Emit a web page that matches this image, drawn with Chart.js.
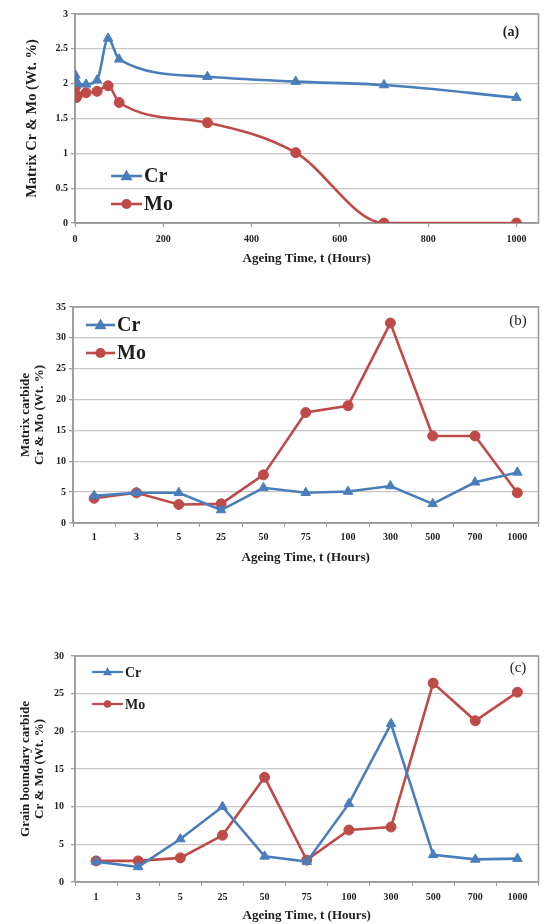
<!DOCTYPE html>
<html><head><meta charset="utf-8">
<script src="https://cdn.jsdelivr.net/npm/chart.js@4/dist/chart.umd.min.js"></script>
<style>
html,body{margin:0;padding:0;background:#fff;width:545px;height:924px;overflow:hidden}
.box{position:absolute;left:0;width:545px}
</style></head><body>
<div class="box" style="top:0;height:275px"><canvas id="ca"></canvas></div>
<div class="box" style="top:290px;height:280px"><canvas id="cb"></canvas></div>
<div class="box" style="top:630px;height:294px"><canvas id="cc"></canvas></div>
<script>
// ---- data ----
const hoursA = [1, 3, 5, 25, 50, 75, 100, 300, 500, 700, 1000];
const crA = [2.12, 2.04, 2.0, 1.99, 2.05, 2.65, 2.35, 2.1, 2.03, 1.98, 1.8];
const moA = [1.95, 1.8, 1.83, 1.87, 1.89, 1.97, 1.73, 1.44, 1.01, 0.0, 0.0];
const xTicksA = [0, 200, 400, 600, 800, 1000];

const categories = ['1', '3', '5', '25', '50', '75', '100', '300', '500', '700', '1000'];
const crB = [4.4, 4.9, 4.9, 2.1, 5.7, 4.9, 5.1, 6.0, 3.1, 6.6, 8.2];
const moB = [4.0, 4.9, 3.0, 3.1, 7.8, 17.9, 19.0, 32.4, 14.1, 14.1, 4.9];

const crC = [2.7, 2.0, 5.7, 10.0, 3.4, 2.7, 10.4, 21.0, 3.6, 3.0, 3.1];
const moC = [2.8, 2.8, 3.2, 6.2, 13.9, 2.9, 6.9, 7.3, 26.4, 21.4, 25.2];

const seriesNames = ['Cr', 'Mo'];
const panelLabels = ['(a)', '(b)', '(c)'];
const xTitle = 'Ageing Time, t (Hours)';
const yTitleA = 'Matrix Cr & Mo (Wt. %)';
const yTitleB = ['Matrix carbide', 'Cr & Mo (Wt. %)'];
const yTitleC = ['Grain boundary carbide', 'Cr & Mo (Wt. %)'];

// ---- styles ----
const BLUE = '#4A7EBB', RED = '#BE4B48';
const SERIF = '"Liberation Serif", "Times New Roman", "DejaVu Serif", serif';
const TXT = '#1e1e1e';
Chart.defaults.font.family = SERIF;
Chart.defaults.color = TXT;

const plain = v => String(Math.round(v * 100) / 100);

const framePlugin = {
  id: 'frame',
  beforeDatasetsDraw(chart) {
    const {ctx, chartArea: a} = chart;
    ctx.save();
    ctx.strokeStyle = '#9c9c9c';
    ctx.lineWidth = 1.6;
    ctx.strokeRect(a.left, a.top, a.right - a.left, a.bottom - a.top);
    ctx.restore();
  }
};

const legendPlugin = {
  id: 'lg',
  afterDraw(chart, args, o) {
    const ctx = chart.ctx;
    ctx.save();
    chart.data.datasets.forEach((ds, i) => {
      const y = o.y + i * o.dy;
      ctx.strokeStyle = ds.borderColor;
      ctx.lineWidth = o.lw;
      ctx.beginPath();
      ctx.moveTo(o.x, y); ctx.lineTo(o.x + o.len, y); ctx.stroke();
      const cx = o.x + o.len / 2, r = o.r;
      ctx.fillStyle = ds.borderColor;
      ctx.beginPath();
      if (ds.pointStyle === 'triangle') {
        ctx.moveTo(cx, y - r * 1.1);
        ctx.lineTo(cx + r, y + r * 0.7);
        ctx.lineTo(cx - r, y + r * 0.7);
        ctx.closePath();
      } else {
        ctx.arc(cx, y, r * 0.85, 0, Math.PI * 2);
      }
      ctx.fill();
      ctx.fillStyle = TXT;
      ctx.font = 'bold ' + o.size + 'px ' + SERIF;
      ctx.textBaseline = 'middle';
      ctx.textAlign = 'left';
      ctx.fillText(ds.label, o.x + o.len + 2, y + 1);
    });
    ctx.font = o.pw + ' ' + o.ps + 'px ' + SERIF;
    ctx.textAlign = 'center';
    ctx.textBaseline = 'middle';
    ctx.fillStyle = TXT;
    ctx.fillText(o.panel, o.px, o.py);
    ctx.restore();
  }
};

function ds(label, data, color, style, radius, smooth) {
  return {
    label, data, borderColor: color, backgroundColor: color,
    borderWidth: 2.6, pointStyle: style, pointRadius: radius,
    pointBorderWidth: 1, pointBorderColor: color, pointBackgroundColor: color,
    cubicInterpolationMode: smooth ? 'monotone' : 'default', tension: 0
  };
}

function yScale(min, max, step, title, titleSize, titleLH, titlePad, width, tickPad) {
  return {
    min, max, ticks: {stepSize: step, padding: tickPad, font: {size: 10, weight: 'bold'}, color: TXT, callback: plain},
    grid: {color: '#c6c6c6', lineWidth: 1.3, drawTicks: true, tickLength: 4, tickColor: '#9c9c9c'},
    border: {display: true, color: '#9c9c9c', width: 1.6},
    title: {display: true, text: title, color: TXT,
      font: {size: titleSize, weight: 'bold', lineHeight: titleLH}, padding: {top: titlePad, bottom: 0}},
    afterFit(s) { s.width = width; }
  };
}

function xTitleOpt(pb) {
  return {display: true, text: xTitle, color: TXT,
    font: {size: 13, weight: 'bold', lineHeight: 1.2}, padding: {top: 0, bottom: pb}};
}

const common = {
  responsive: true, maintainAspectRatio: false, animation: false,
  plugins: {legend: {display: false}, tooltip: {enabled: false}}
};

// ---- chart (a) ----
new Chart(document.getElementById('ca'), {
  type: 'line',
  data: {datasets: [
    ds(seriesNames[0], crA.map((v, i) => ({x: hoursA[i], y: v})), BLUE, 'triangle', 5.5, true),
    ds(seriesNames[1], moA.map((v, i) => ({x: hoursA[i], y: v})), RED, 'circle', 5, true)
  ]},
  options: Object.assign({}, common, {
    layout: {padding: {left: 0, right: 5, top: 14, bottom: 0}},
    plugins: Object.assign({}, common.plugins, {
      lg: {x: 111, y: 176, dy: 28, len: 31, r: 6, lw: 2.6, size: 20,
           panel: panelLabels[0], px: 511, py: 32, ps: 14, pw: 'bold'}
    }),
    scales: {
      x: {type: 'linear', min: 0, max: 1050,
        ticks: {padding: 6, font: {size: 10, weight: 'bold'}, color: TXT, includeBounds: false, callback: plain},
        afterBuildTicks(axis) { axis.ticks = xTicksA.map(v => ({value: v})); },
        grid: {drawOnChartArea: false, drawTicks: true, tickLength: 4, tickColor: '#9c9c9c'},
        border: {display: true, color: '#9c9c9c', width: 1.6},
        title: xTitleOpt(9),
        afterFit(s) { s.height = 52; }
      },
      y: yScale(0, 3, 0.5, yTitleA, 14.5, 1.2, 24, 75, 3)
    }
  }),
  plugins: [framePlugin, legendPlugin]
});

function catChart(id, cr, mo, yMax, yTitle, chartTop, chartBottom, canvasH, left, right, lg, tickPad, titlePB, yTickPad, mr) {
  new Chart(document.getElementById(id), {
    type: 'line',
    data: {labels: categories, datasets: [
      ds(seriesNames[0], cr, BLUE, 'triangle', mr + 0.5, false),
      ds(seriesNames[1], mo, RED, 'circle', mr, false)
    ]},
    options: Object.assign({}, common, {
      layout: {padding: {left: 0, right: 545 - right, top: chartTop, bottom: 0}},
      plugins: Object.assign({}, common.plugins, {lg}),
      scales: {
        x: {type: 'category', offset: true,
          ticks: {padding: tickPad, font: {size: 10, weight: 'bold'}, color: TXT, autoSkip: false, maxRotation: 0},
          grid: {offset: true, drawOnChartArea: false, drawTicks: true, tickLength: 4, tickColor: '#9c9c9c'},
          border: {display: true, color: '#9c9c9c', width: 1.6},
          title: xTitleOpt(titlePB),
          afterFit(s) { s.height = canvasH - chartBottom; }
        },
        y: yScale(0, yMax, 5, yTitle, 13, 1.1, 18, left, yTickPad)
      }
    }),
    plugins: [framePlugin, legendPlugin]
  });
}

catChart('cb', crB, moB, 35, yTitleB, 17, 233, 280, 73, 539,
  {x: 86, y: 35, dy: 28, len: 29, r: 6, lw: 2.6, size: 20,
   panel: panelLabels[1], px: 518, py: 31, ps: 15, pw: 'normal'}, 4, 5, 3, 5);

catChart('cc', crC, moC, 30, yTitleC, 26, 252, 294, 75, 544,
  {x: 92, y: 42, dy: 32, len: 31, r: 4.5, lw: 2.2, size: 14,
   panel: panelLabels[2], px: 518, py: 38, ps: 15, pw: 'normal'}, 5, 1, 7, 5);
</script>
</body></html>
